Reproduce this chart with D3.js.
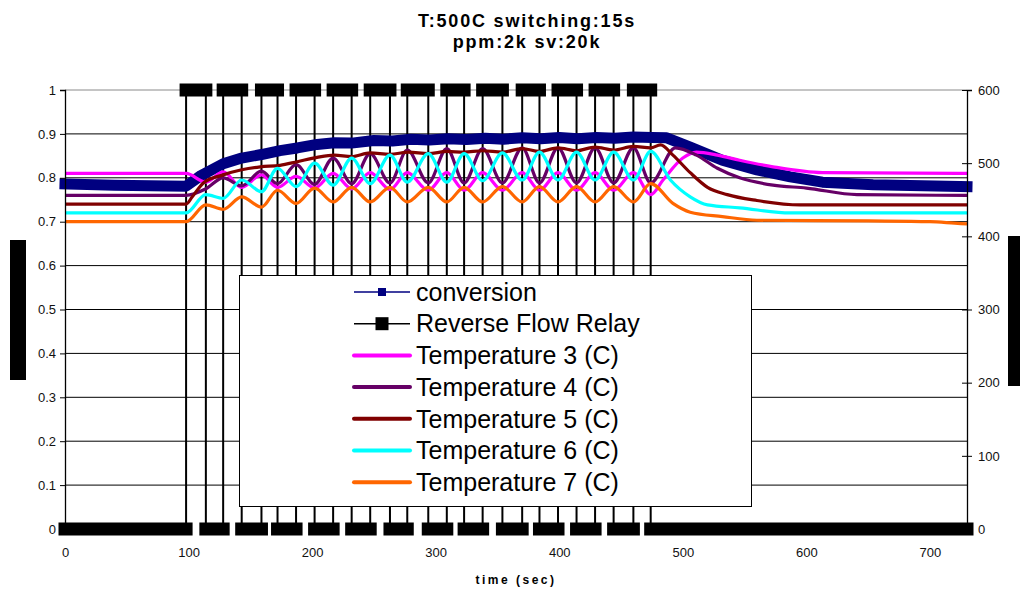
<!DOCTYPE html>
<html>
<head>
<meta charset="utf-8">
<script src="https://cdn.jsdelivr.net/npm/d3@7"></script>
<style>
	body { margin: 0; background: #fff; }
	svg { font-family: "Liberation Sans", Arial, sans-serif; display: block; }
</style>
</head>
<body>
<svg id="svg"></svg>
<script>

// ########################################################################## //
// data

// reverse flow relay: switches on at rise, off at fall (sec)
const riseTimes = [98, 128, 159, 187, 217, 247, 277, 309, 338, 370, 399, 429, 460];
const fallTimes = [114, 143, 172, 202, 232, 263, 294, 323, 354, 384, 414, 444, 474];

// conversion, left axis [time, fraction]
const conversion = [
	[0, 0.786], [40, 0.783], [98, 0.781], [110, 0.805], [128, 0.832], [143, 0.845],
	[159, 0.853], [174, 0.862], [188, 0.868], [204, 0.876], [218, 0.880], [232, 0.879],
	[250, 0.885], [265, 0.884], [280, 0.888], [295, 0.886], [310, 0.889], [325, 0.887],
	[340, 0.890], [355, 0.888], [370, 0.891], [385, 0.889], [400, 0.892], [415, 0.889],
	[430, 0.892], [445, 0.890], [460, 0.893], [475, 0.892], [487, 0.891], [506, 0.870],
	[532, 0.840], [560, 0.818], [587, 0.802], [613, 0.790], [654, 0.784], [730, 0.780]
];

// temperatures, right axis [time, C]
const temp3 = [
	[0, 486], [98, 486], [114, 474], [128, 488], [143, 467], [159, 484], [172, 467],
	[187, 482], [202, 466], [217, 486], [232, 465], [247, 487], [263, 464], [277, 487],
	[294, 463], [309, 487], [323, 463], [338, 487], [354, 463], [370, 487], [384, 463],
	[399, 487], [414, 463], [429, 487], [444, 463], [460, 487], [474, 457], [484, 477],
	[500, 507], [511, 515], [528, 511], [546, 504], [573, 495], [613, 487], [730, 486]
];
const temp4 = [
	[0, 456], [98, 456], [114, 465], [128, 480], [143, 469], [159, 489], [172, 472],
	[187, 498], [202, 471], [217, 507], [232, 472], [247, 513], [263, 473], [277, 518],
	[294, 473], [309, 520], [323, 473], [338, 520], [354, 473], [370, 521], [384, 473],
	[399, 521], [414, 473], [429, 521], [444, 473], [460, 521], [474, 473], [494, 521],
	[511, 511], [528, 493], [546, 480], [573, 470], [600, 466], [641, 457], [730, 456]
];
const temp5 = [
	[0, 444], [98, 444], [103, 454], [112, 473], [128, 484], [143, 491], [158, 495],
	[174, 497], [188, 502], [204, 508], [218, 511], [232, 509], [247, 514], [263, 512],
	[278, 515], [294, 513], [309, 516], [323, 515], [338, 517], [354, 515], [370, 520],
	[384, 516], [399, 521], [414, 517], [429, 522], [444, 518], [460, 523], [474, 521],
	[482, 525], [492, 511], [506, 487], [520, 467], [536, 457], [560, 449], [595, 443],
	[730, 443]
];
const temp6 = [
	[0, 432], [98, 432], [114, 457], [128, 452], [143, 477], [159, 461], [172, 493],
	[187, 468], [202, 500], [217, 470], [232, 507], [247, 472], [263, 511], [277, 474],
	[294, 513], [309, 474], [323, 513], [338, 476], [354, 514], [370, 477], [384, 515],
	[399, 477], [414, 515], [429, 477], [444, 515], [460, 477], [474, 516], [490, 477],
	[506, 454], [520, 443], [546, 439], [587, 432], [730, 432]
];
const temp7 = [
	[0, 420], [98, 420], [114, 443], [128, 437], [143, 454], [159, 440], [172, 463],
	[187, 445], [202, 466], [217, 447], [232, 467], [247, 447], [263, 467], [277, 447],
	[294, 467], [309, 447], [323, 467], [338, 447], [354, 468], [370, 447], [384, 468],
	[399, 447], [414, 468], [429, 447], [444, 468], [460, 447], [474, 472], [492, 445],
	[506, 433], [532, 427], [560, 422], [650, 421], [700, 420], [720, 418], [730, 417]
];

const seriesNames = ["conversion", "Reverse Flow Relay", "Temperature 3 (C)",
	"Temperature 4 (C)", "Temperature 5 (C)", "Temperature 6 (C)", "Temperature 7 (C)"];

const xTicks = [0, 100, 200, 300, 400, 500, 600, 700];
const yTicks = [0, 0.1, 0.2, 0.3, 0.4, 0.5, 0.6, 0.7, 0.8, 0.9, 1];
const y2Ticks = [0, 100, 200, 300, 400, 500, 600];

const titleLines = ["T:500C switching:15s", "ppm:2k sv:20k"];
const xTitle = "time (sec)";

// ########################################################################## //

let width = 1020,
	height = 591,
	x0 = 65, x1 = 967,
	yTop = 90, yBot = 529,
	colors = ["#000080", "#000000", "#ff00ff", "#660066", "#800000", "#00ffff", "#ff6600"];

const svg = d3.select("svg#svg")
	.attr("width", width)
	.attr("height", height);

const xScale = d3.scaleLinear().domain([0, 730]).range([x0, x1]);
const yScale = d3.scaleLinear().domain([0, 1]).range([yBot, yTop]);
const y2Scale = d3.scaleLinear().domain([0, 600]).range([yBot, yTop]);

// gridlines
svg.append("g")
	.selectAll("line")
	.data(yTicks.filter(d => d > 0))
	.enter()
	.append("line")
	.attr("x1", x0)
	.attr("x2", x1)
	.attr("y1", d => yScale(d))
	.attr("y2", d => yScale(d))
	.attr("stroke", d => d === 1 ? "#8a8a8a" : "#000")
	.attr("stroke-width", 1);

// relay
let relay = [[0, 0]];
riseTimes.forEach((r, i) => {
	relay.push([r, 0], [r, 1], [fallTimes[i], 1], [fallTimes[i], 0]);
});
relay.push([730, 0]);

svg.append("path")
	.attr("d", d3.line().x(d => xScale(d[0])).y(d => yScale(d[1]))(relay))
	.attr("fill", "none")
	.attr("stroke", "#000")
	.attr("stroke-width", 2);

// marker bands of the relay
let highs = riseTimes.map((r, i) => [r, fallTimes[i], 1]);
let lows = [[0, riseTimes[0], 0]];
fallTimes.forEach((f, i) => lows.push([f, i + 1 < riseTimes.length ? riseTimes[i + 1] : 730, 0]));

svg.append("g")
	.selectAll("rect")
	.data(highs.concat(lows))
	.enter()
	.append("rect")
	.attr("x", d => xScale(d[0]) - 6.5)
	.attr("width", d => xScale(d[1]) - xScale(d[0]) + 13)
	.attr("y", d => yScale(d[2]) - 6.5)
	.attr("height", 13)
	.attr("fill", "#000");

// conversion
svg.append("path")
	.attr("d", d3.line().x(d => xScale(d[0])).y(d => yScale(d[1]))(conversion))
	.attr("fill", "none")
	.attr("stroke", colors[0])
	.attr("stroke-width", 11)
	.attr("stroke-linejoin", "round")
	.attr("stroke-linecap", "square");

// temperatures
const tempLine = d3.line()
	.x(d => xScale(d[0]))
	.y(d => y2Scale(d[1]))
	.curve(d3.curveMonotoneX);

[temp3, temp4, temp5, temp6, temp7].forEach((s, i) => {
	svg.append("path")
		.attr("d", tempLine(s))
		.attr("fill", "none")
		.attr("stroke", colors[i + 2])
		.attr("stroke-width", 3.2)
		.attr("stroke-linejoin", "round");
});

// ########################################################################## //
// axes

const yAxis = svg.append("g")
	.attr("transform", `translate(${x0},0)`)
	.call(d3.axisLeft(yScale).tickValues(yTicks).tickSize(5).tickPadding(4).tickFormat(d => String(d)));

const y2Axis = svg.append("g")
	.attr("transform", `translate(${x1},0)`)
	.call(d3.axisRight(y2Scale).tickValues(y2Ticks).tickSize(5).tickPadding(6));
y2Axis.selectAll(".tick line").attr("x1", -5);

const xAxis = svg.append("g")
	.attr("transform", `translate(0,${yBot})`)
	.call(d3.axisBottom(xScale).tickValues(xTicks).tickSize(0).tickPadding(19));

[yAxis, y2Axis, xAxis].forEach(a => {
	a.select(".domain").attr("stroke", "#000").attr("stroke-width", 1.3);
	a.selectAll("text")
		.attr("font-family", "Liberation Sans, Arial, sans-serif")
		.attr("font-size", 13)
		.attr("fill", "#111");
});
xAxis.select(".domain").remove();

// titles
svg.append("g")
	.selectAll("text")
	.data(titleLines)
	.enter()
	.append("text")
	.text(d => d)
	.attr("x", 527)
	.attr("y", (d, i) => 27 + i * 21)
	.attr("text-anchor", "middle")
	.attr("font-size", 18)
	.attr("font-weight", "bold")
	.attr("letter-spacing", 1.8);

svg.append("text")
	.text(xTitle)
	.attr("x", 516)
	.attr("y", 584)
	.attr("text-anchor", "middle")
	.attr("font-size", 12)
	.attr("font-weight", "bold")
	.attr("letter-spacing", 2.5);

// axis titles (blacked out in the original)
svg.append("rect").attr("x", 10).attr("y", 240).attr("width", 16).attr("height", 140).attr("fill", "#000");
svg.append("rect").attr("x", 1008).attr("y", 236).attr("width", 12).attr("height", 150).attr("fill", "#000");

// ########################################################################## //
// legend

const legend = svg.append("g");

legend.append("rect")
	.attr("x", 239.5)
	.attr("y", 275.5)
	.attr("width", 512)
	.attr("height", 231)
	.attr("fill", "#fff")
	.attr("stroke", "#000")
	.attr("stroke-width", 1);

const rows = legend.selectAll("g.row")
	.data(seriesNames)
	.enter()
	.append("g")
	.attr("class", "row")
	.attr("transform", (d, i) => `translate(0,${292 + i * 31.7})`);

rows.append("line")
	.attr("x1", 354)
	.attr("x2", 410)
	.attr("stroke", (d, i) => colors[i])
	.attr("stroke-width", (d, i) => i < 2 ? 1.5 : 4)
	.attr("stroke-linecap", (d, i) => i < 2 ? "butt" : "round");

rows.filter((d, i) => i < 2)
	.append("rect")
	.attr("x", (d, i) => i === 0 ? 378 : 375.5)
	.attr("y", (d, i) => i === 0 ? -4 : -6.5)
	.attr("width", (d, i) => i === 0 ? 8 : 13)
	.attr("height", (d, i) => i === 0 ? 8 : 13)
	.attr("fill", (d, i) => colors[i]);

rows.append("text")
	.text(d => d)
	.attr("x", 416)
	.attr("dy", "0.35em")
	.attr("font-size", 25)
	.attr("fill", "#000");

</script>
</body>
</html>
